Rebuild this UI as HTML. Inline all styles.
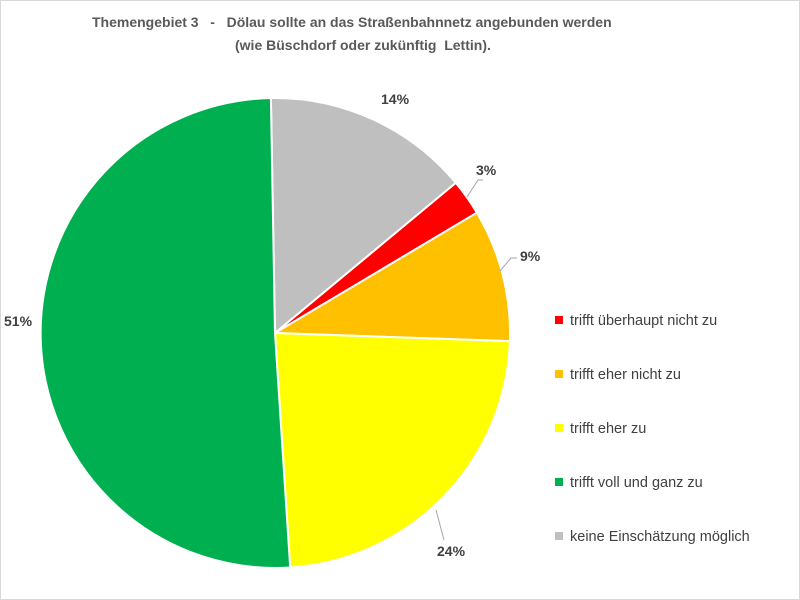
<!DOCTYPE html>
<html><head><meta charset="utf-8"><style>
html,body{margin:0;padding:0;background:#fff}
svg{display:block;font-family:"Liberation Sans",Calibri,sans-serif}
</style></head><body>
<svg width="800" height="600" viewBox="0 0 800 600">
<rect x="0.5" y="0.5" width="799" height="599" fill="#fff" stroke="#d9d9d9"/>
<text x="92" y="27" font-size="14" font-weight="bold" fill="#595959" xml:space="preserve">Themengebiet 3   -   Dölau sollte an das Straßenbahnnetz angebunden werden</text>
<text x="235" y="50" font-size="14" font-weight="bold" fill="#595959" xml:space="preserve">(wie Büschdorf oder zukünftig  Lettin).</text>
<g stroke="#fff" stroke-width="2" stroke-linejoin="round">
<path d="M275,333 L270.9,98 A235,235 0 0,1 455.8,182.9 Z" fill="#bfbfbf"/>
<path d="M275,333 L455.8,182.9 A235,235 0 0,1 476.9,212.7 Z" fill="#ff0000"/>
<path d="M275,333 L476.9,212.7 A235,235 0 0,1 509.9,341.2 Z" fill="#ffc000"/>
<path d="M275,333 L509.9,341.2 A235,235 0 0,1 290.2,567.5 Z" fill="#ffff00"/>
<path d="M275,333 L290.2,567.5 A235,235 0 1,1 270.9,98 Z" fill="#00b050"/>
</g>
<g fill="none" stroke="#a6a6a6" stroke-width="1">
<polyline points="467,197 478,180 483,180"/>
<polyline points="500,271 511,258 517,258"/>
<polyline points="436,510 444,540"/>
</g>
<g font-size="14" font-weight="bold" fill="#404040">
<text x="381" y="104">14%</text>
<text x="476" y="175">3%</text>
<text x="520" y="261">9%</text>
<text x="437" y="556">24%</text>
<text x="4" y="326">51%</text>
</g>
<g font-size="14.5" fill="#404040">
<rect x="555" y="316" width="8" height="8" fill="#ff0000"/><text x="570" y="325">trifft überhaupt nicht zu</text>
<rect x="555" y="370" width="8" height="8" fill="#ffc000"/><text x="570" y="379">trifft eher nicht zu</text>
<rect x="555" y="424" width="8" height="8" fill="#ffff00"/><text x="570" y="433">trifft eher zu</text>
<rect x="555" y="478" width="8" height="8" fill="#00b050"/><text x="570" y="487">trifft voll und ganz zu</text>
<rect x="555" y="532" width="8" height="8" fill="#bfbfbf"/><text x="570" y="541">keine Einschätzung möglich</text>
</g>
</svg>
</body></html>
